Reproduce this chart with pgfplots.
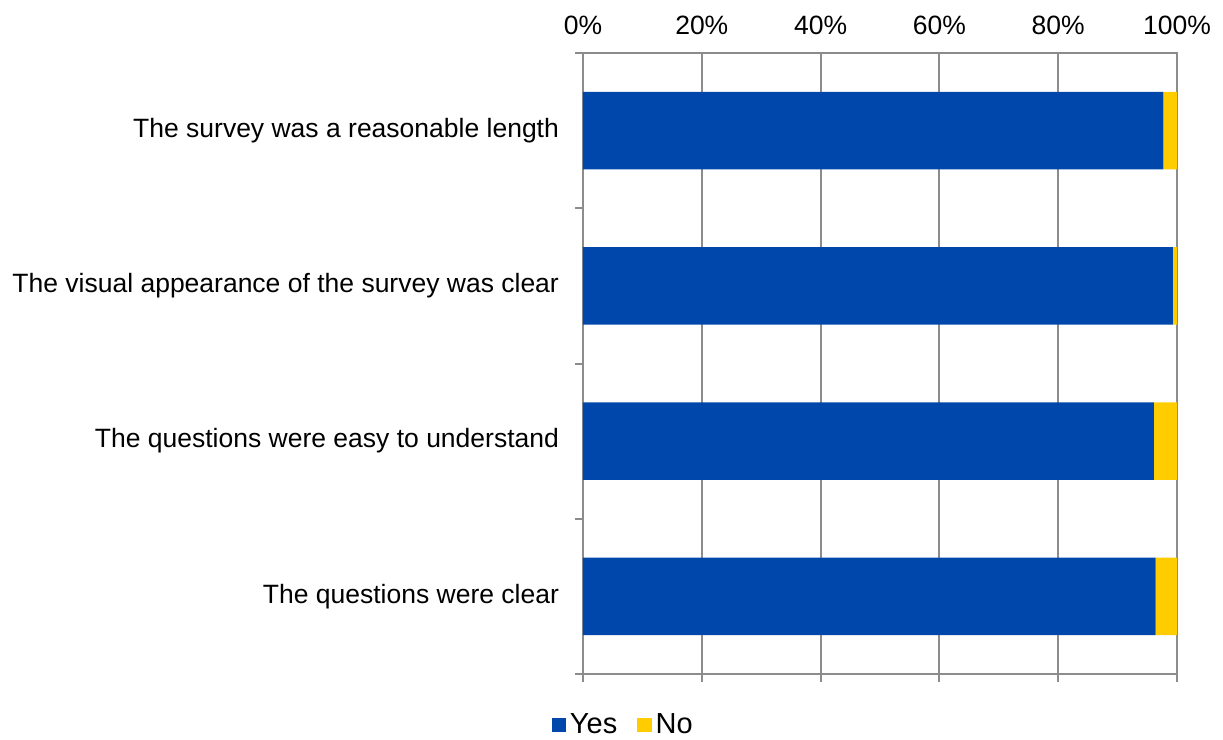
\documentclass[border=0pt]{standalone}
\usepackage{fontspec}
\setmainfont{Liberation Sans}
\usepackage{pgfplots}
\pgfplotsset{compat=1.18}
\definecolor{yesblue}{RGB}{0,71,171}
\definecolor{noyellow}{RGB}{255,204,0}
\definecolor{gridgray}{RGB}{140,140,140}
\begin{document}
\begin{tikzpicture}
\useasboundingbox (-291.5pt,-33pt) rectangle (320pt,337pt);
\begin{axis}[
  scale only axis, width=297pt, height=310.5pt,
  xbar stacked, bar width=38.75pt,
  xmin=0, xmax=100, ymin=-0.5, ymax=3.5,
  xtick={0,20,40,60,80,100},
  xticklabels={0\%,20\%,40\%,60\%,80\%,100\%},
  xtick pos=left, xticklabel pos=right,
  ytick={0,1,2,3},
  yticklabels={The questions were clear,The questions were easy to understand,The visual appearance of the survey was clear,The survey was a reasonable length},
  minor ytick={-0.5,0.5,1.5,2.5,3.5},
  ytick pos=left,
  tick align=outside,
  major tick length=4pt, minor tick length=4pt,
  every major y tick/.append style={draw=none},
  xmajorgrids, ymajorgrids=false,
  grid style={gridgray, line width=1pt},
  axis line style={gridgray, line width=1pt},
  every tick/.append style={gridgray, line width=1pt},
  tick label style={font=\fontsize{13.25}{15}\selectfont, text=black},
  yticklabel style={xshift=-4.5pt},
  xticklabel style={yshift=1.5pt},
  legend style={at={(0.0693,-0.082)}, anchor=center, draw=none, legend columns=2,
    font=\fontsize{14.5}{16}\selectfont, /tikz/every even column/.append style={column sep=8pt}},
  legend image code/.code={\fill[#1] (0pt,-3.6pt) rectangle (7.2pt,3.6pt);},
]
\addplot[fill=yesblue, draw=none] coordinates {(96.4,0) (96.1,1) (99.3,2) (97.7,3)};
\addplot[fill=noyellow, draw=none] coordinates {(3.6,0) (3.9,1) (0.7,2) (2.3,3)};
\legend{Yes,No}
\end{axis}
\end{tikzpicture}
\end{document}
